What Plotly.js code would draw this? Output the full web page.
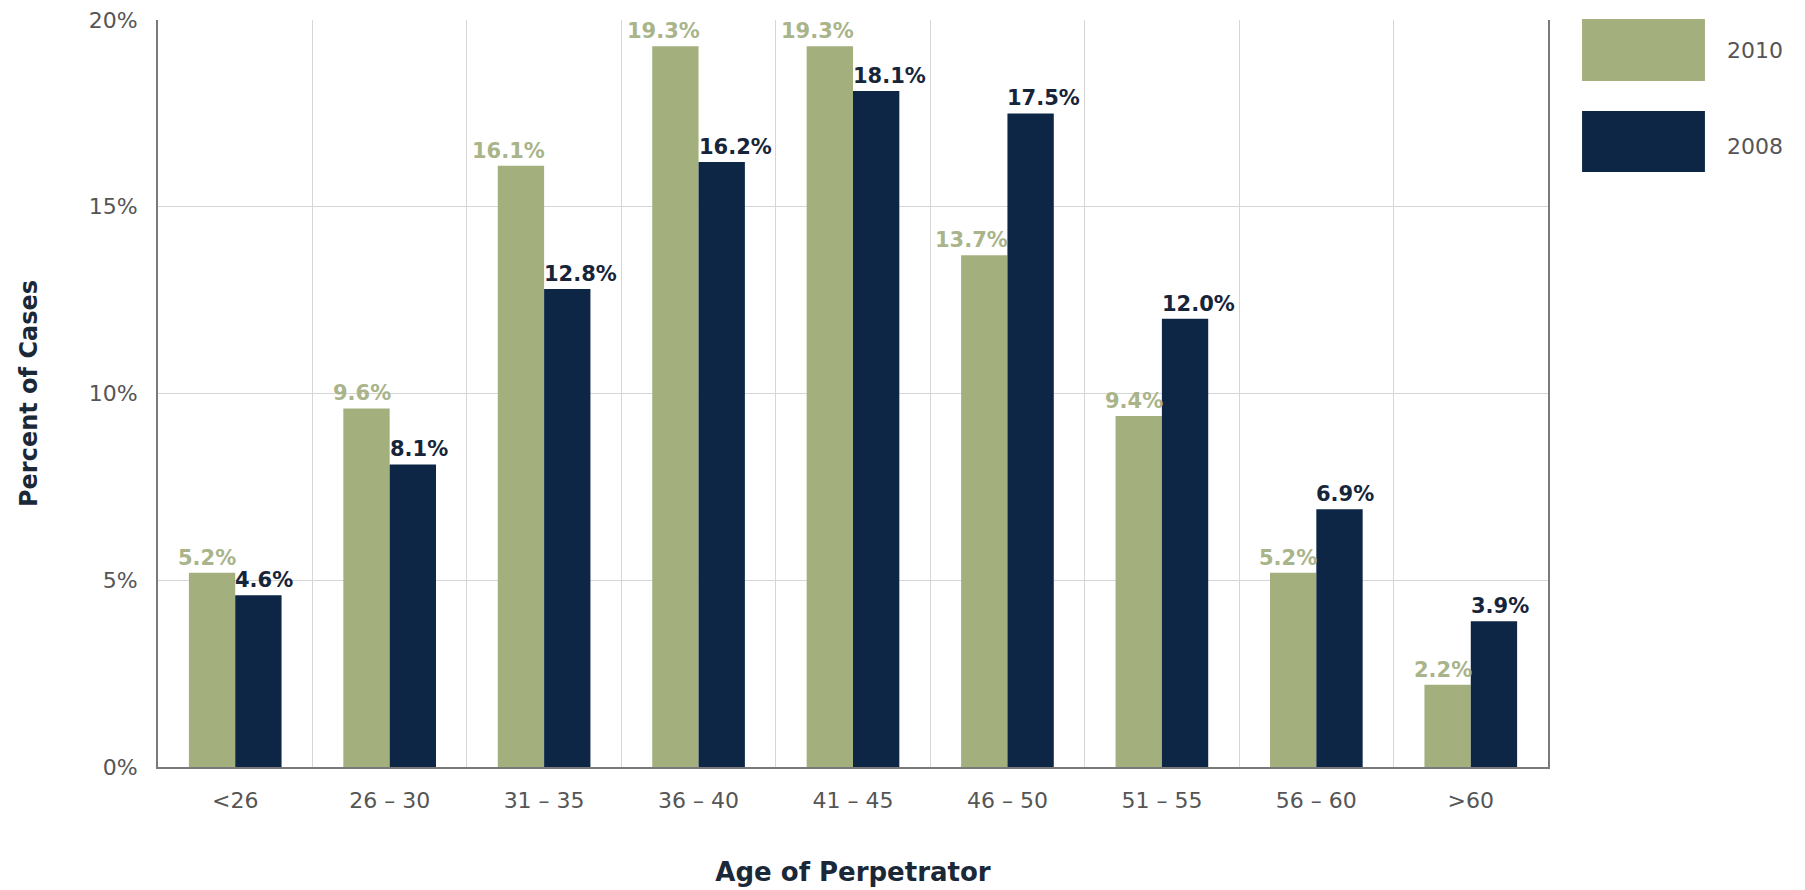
<!DOCTYPE html>
<html>
<head>
<meta charset="utf-8">
<script src="https://cdn.plot.ly/plotly-3.0.1.min.js"></script>
<style>html,body{margin:0;padding:0;background:#fff;}</style>
</head>
<body>
<div id="chart" style="width:1805px;height:890px;"></div>
<script>
const categories = ["<26", "26 – 30", "31 – 35", "36 – 40", "41 – 45", "46 – 50", "51 – 55", "56 – 60", ">60"];
const seriesNames = ["2010", "2008"];
const values2010 = [5.2, 9.6, 16.1, 19.3, 19.3, 13.7, 9.4, 5.2, 2.2];
const values2008 = [4.6, 8.1, 12.8, 16.2, 18.1, 17.5, 12.0, 6.9, 3.9];
const yTickVals = [0, 5, 10, 15, 20];
const yTickText = ["0%", "5%", "10%", "15%", "20%"];

const green = "#a3b07e";
const navy = "#0e2645";
const greenLabel = "#a9b48a";
const navyLabel = "#17253a";

const labelFamily = "DejaVu Sans, Verdana, sans-serif";

const traces = [
  {type: "bar", name: seriesNames[0], x: categories, y: values2010, marker: {color: green}, hoverinfo: "skip"},
  {type: "bar", name: seriesNames[1], x: categories, y: values2008, marker: {color: navy}, hoverinfo: "skip"}
];

// value labels: 2010 labels end at the group centre, 2008 labels start there
const valueLabels = [];
categories.forEach(function (c, i) {
  valueLabels.push({
    x: c, y: values2010[i], xref: "x", yref: "y", xanchor: "right", yanchor: "bottom",
    yshift: 1, xshift: 3, showarrow: false, text: values2010[i].toFixed(1) + "%",
    font: {family: labelFamily, size: 21, weight: "bold", color: greenLabel}
  });
  valueLabels.push({
    x: c, y: values2008[i], xref: "x", yref: "y", xanchor: "left", yanchor: "bottom",
    yshift: 1, xshift: -2, showarrow: false, text: values2008[i].toFixed(1) + "%",
    font: {family: labelFamily, size: 21, weight: "bold", color: navyLabel}
  });
});

const layout = {
  width: 1805, height: 890,
  margin: {l: 158, r: 257, t: 20, b: 123, pad: 0},
  paper_bgcolor: "#fff", plot_bgcolor: "#fff",
  showlegend: false,
  barmode: "group", bargap: 0.4, bargroupgap: 0,
  font: {family: labelFamily, color: "#555"},
  xaxis: {
    type: "category",
    tickson: "boundaries", showgrid: true, gridcolor: "#d6d6d6", gridwidth: 1,
    ticks: "", showline: true, linecolor: "#7a7a7a", linewidth: 2,
    tickfont: {size: 22, color: "#555"}, ticklabelstandoff: 13,
    title: {text: "Age of Perpetrator", font: {size: 26, weight: "bold", color: "#1b2838"}, standoff: 50}
  },
  yaxis: {
    range: [0, 20], tickvals: yTickVals, ticktext: yTickText,
    showgrid: true, gridcolor: "#d6d6d6", gridwidth: 1, zeroline: false,
    showline: true, mirror: true, linecolor: "#7a7a7a", linewidth: 2,
    ticks: "", tickfont: {size: 22, color: "#555"}, ticklabelstandoff: 14,
    title: {text: "Percent of Cases", font: {size: 24, weight: "bold", color: "#1b2838"}, standoff: 44}
  },
  shapes: [
    {type: "rect", xref: "paper", yref: "paper", x0: 1.0245, x1: 1.1129, y0: 0.9183, y1: 1.0013, fillcolor: green, line: {width: 0}},
    {type: "rect", xref: "paper", yref: "paper", x0: 1.0245, x1: 1.1129, y0: 0.7965, y1: 0.8782, fillcolor: navy, line: {width: 0}}
  ],
  annotations: valueLabels.concat([
    {xref: "paper", yref: "paper", x: 1.1273, y: 0.9598, xanchor: "left", yanchor: "middle", text: seriesNames[0], showarrow: false, font: {size: 22, color: "#555"}},
    {xref: "paper", yref: "paper", x: 1.1273, y: 0.8313, xanchor: "left", yanchor: "middle", text: seriesNames[1], showarrow: false, font: {size: 22, color: "#555"}}
  ])
};

Plotly.newPlot("chart", traces, layout, {displayModeBar: false, staticPlot: true});
</script>
</body>
</html>
